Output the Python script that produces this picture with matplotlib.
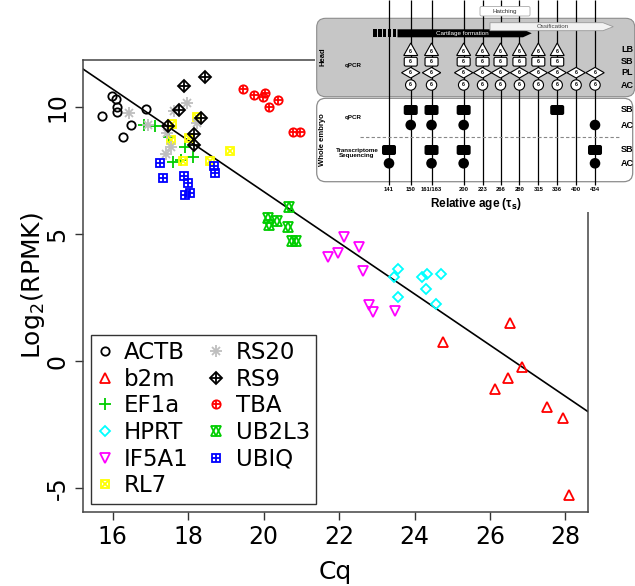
import matplotlib
matplotlib.use("Agg")
import matplotlib.pyplot as plt
from matplotlib.patches import FancyBboxPatch, Polygon, Rectangle, Circle

plt.rcParams['font.family'] = ['DejaVu Sans']
plt.rcParams['axes.unicode_minus'] = False

# ---- data ----
genes = ["ACTB", "b2m", "EF1a", "HPRT", "IF5A1", "RL7",
         "RS20", "RS9", "TBA", "UB2L3", "UBIQ"]

ACTB_cq = [15.97, 16.08, 16.10, 16.10, 15.71, 16.47, 16.27, 16.87]
ACTB_lr = [10.43, 10.30, 10.01, 9.79, 9.65, 9.29, 8.81, 9.92]
b2m_cq = [26.52, 24.76, 26.86, 26.47, 26.13, 27.52, 27.93, 28.09]
b2m_lr = [1.48, 0.76, -0.22, -0.66, -1.11, -1.80, -2.23, -5.28]
EF1a_cq = [16.82, 17.11, 17.49, 17.90, 18.12, 17.60, 17.82]
EF1a_lr = [9.29, 9.25, 8.81, 8.44, 8.02, 7.85, 7.91]
HPRT_cq = [23.57, 23.45, 24.19, 24.33, 24.70, 24.30, 23.55, 24.58]
HPRT_lr = [3.61, 3.32, 3.32, 3.43, 3.43, 2.82, 2.51, 2.24]
IF5A1_cq = [22.14, 22.53, 21.96, 21.71, 22.64, 22.80, 22.90, 23.49]
IF5A1_lr = [4.87, 4.50, 4.26, 4.08, 3.53, 2.20, 1.93, 1.96]
RL7_cq = [17.58, 18.23, 17.55, 18.02, 19.10, 18.57, 17.86]
RL7_lr = [9.33, 9.59, 8.70, 8.77, 8.28, 7.89, 7.89]
RS20_cq = [16.43, 16.93, 17.97, 17.61, 18.23, 17.44, 17.55, 17.40]
RS20_lr = [9.78, 9.29, 10.14, 9.86, 9.38, 8.99, 8.41, 8.15]
RS9_cq = [18.44, 17.88, 17.75, 18.35, 17.46, 18.15, 18.15]
RS9_lr = [11.19, 10.83, 9.88, 9.55, 9.25, 8.94, 8.50]
TBA_cq = [19.45, 19.74, 20.03, 19.97, 20.38, 20.14, 20.77, 20.97]
TBA_lr = [10.70, 10.48, 10.56, 10.41, 10.29, 10.01, 9.00, 9.03]
UB2L3_cq = [20.68, 20.11, 20.13, 20.36, 20.64, 20.74, 20.86]
UB2L3_lr = [6.05, 5.62, 5.35, 5.52, 5.29, 4.74, 4.74]
UBIQ_cq = [17.24, 17.32, 17.88, 17.99, 18.04, 17.91, 18.67, 18.70]
UBIQ_lr = [7.81, 7.19, 7.28, 7.02, 6.63, 6.55, 7.68, 7.41]

fit_intercept = 26.81
fit_slope = -1.007

# sampling scheme (inset)
ages = ["141", "150", "161/163", "200", "223", "266", "280", "315", "336", "400", "434"]
head_LB = ["150", "161/163", "200", "223", "266", "280", "315", "336"]
head_SB = ["150", "161/163", "200", "223", "266", "280", "315", "336"]
head_PL = ["150", "161/163", "200", "223", "266", "280", "315", "336", "400", "434"]
head_AC = ["150", "161/163", "200", "223", "266", "280", "315", "336", "400", "434"]
embryo_qpcr_SB = ["150", "161/163", "200", "336"]
embryo_qpcr_AC = ["150", "161/163", "200", "434"]
embryo_seq_SB = ["141", "161/163", "200", "434"]
embryo_seq_AC = ["141", "161/163", "200", "434"]

series = {
    "ACTB": (ACTB_cq, ACTB_lr), "b2m": (b2m_cq, b2m_lr), "EF1a": (EF1a_cq, EF1a_lr),
    "HPRT": (HPRT_cq, HPRT_lr), "IF5A1": (IF5A1_cq, IF5A1_lr), "RL7": (RL7_cq, RL7_lr),
    "RS20": (RS20_cq, RS20_lr), "RS9": (RS9_cq, RS9_lr), "TBA": (TBA_cq, TBA_lr),
    "UB2L3": (UB2L3_cq, UB2L3_lr), "UBIQ": (UBIQ_cq, UBIQ_lr),
}

# colour + list of (marker, size) overlaid to mimic R pch 1..12
styles = {
    "ACTB": ("black", [("o", 6)]),
    "b2m": ("#ff0000", [("^", 7)]),
    "EF1a": ("#00cd00", [("+", 8.5)]),
    "HPRT": ("#00ffff", [("D", 5.5)]),
    "IF5A1": ("#ff00ff", [("v", 7)]),
    "RL7": ("#ffff00", [("s", 5.5), ("x", 4)]),
    "RS20": ("#bebebe", [("+", 8.5), ("x", 6)]),
    "RS9": ("black", [("D", 6), ("+", 7)]),
    "TBA": ("#ff0000", [("o", 6), ("+", 6)]),
    "UB2L3": ("#00cd00", [("^", 7), ("v", 7)]),
    "UBIQ": ("#0000ff", [("s", 5.5), ("+", 5.5)]),
}

fig = plt.figure(figsize=(6.35, 5.86), dpi=100)
ax = fig.add_axes([82.7 / 635, 1 - 512 / 586, (588 - 82.7) / 635, (512 - 60) / 586])

handles = []
for g in genes:
    x, y = series[g]
    color, marks = styles[g]
    parts = []
    for m, ms in marks:
        ln, = ax.plot(x, y, ls="none", marker=m, ms=ms, mfc="none",
                      mec=color, mew=1.3, zorder=3)
        parts.append(ln)
    handles.append(tuple(parts))

ax.axline((0, fit_intercept), slope=fit_slope, color="black", lw=1.2, zorder=2)

ax.set_xlim(15.2, 28.6)
ax.set_ylim(-5.94, 11.85)
ax.set_xticks([16, 18, 20, 22, 24, 26, 28])
ax.set_yticks([-5, 0, 5, 10])
ax.tick_params(length=6, width=1, labelsize=17, color="#333333")
ax.tick_params(axis="y", labelrotation=90)
for lab in ax.get_yticklabels():
    lab.set_va("center")
for s in ax.spines.values():
    s.set_color("#444444")
    s.set_linewidth(1.1)
ax.set_xlabel("Cq", fontsize=18, labelpad=8)
ax.set_ylabel("Log$_2$(RPMK)", fontsize=18, labelpad=-1)

leg = ax.legend(handles, genes, ncol=2, loc="lower left",
                bbox_to_anchor=(0.017, 0.018), borderaxespad=0, fontsize=16.5,
                fancybox=False, frameon=True, handlelength=0.6,
                handletextpad=0.55, columnspacing=0.9, labelspacing=0.16,
                borderpad=0.28)
leg.get_frame().set_edgecolor("black")
leg.get_frame().set_linewidth(1.0)

# ---- inset: sampling scheme ----
ins = fig.add_axes([315 / 635, 1 - 212 / 586, 320 / 635, 212 / 586])
ins.set_xlim(315, 635)
ins.set_ylim(212, 0)
ins.axis("off")
ins.add_patch(Rectangle((315, 0), 320, 212, fc="white", ec="none", zorder=0))

fnt = "Liberation Sans"
slot = [0, 1.15, 2.25, 3.95, 4.95, 5.9, 6.9, 7.9, 8.9, 9.9, 10.9]
xpos = {a: 389 + 18.9 * s for a, s in zip(ages, slot)}

ins.add_patch(FancyBboxPatch((316.7, 18.3), 318, 78.4,
                             boxstyle="round,pad=0,rounding_size=9",
                             fc="#c6c6c6", ec="#8c8c8c", lw=0.8, zorder=1))
ins.add_patch(FancyBboxPatch((316.7, 98.3), 316, 83.4,
                             boxstyle="round,pad=0,rounding_size=9",
                             fc="white", ec="#8c8c8c", lw=0.9, zorder=1))

ins.vlines([xpos[a] for a in ages], 0, 185, color="black", lw=0.9, zorder=2)

ins.add_patch(FancyBboxPatch((480, 6.5), 50, 9.5, boxstyle="round,pad=0,rounding_size=1.5",
                             fc="white", ec="#aaaaaa", lw=0.6, zorder=3))
ins.text(505, 11.3, "Hatching", fontsize=4.5, family=fnt, color="#333333",
         ha="center", va="center", zorder=4)

for i in range(5):
    ins.add_patch(Rectangle((373.3 + i * 4.8, 29.3), 3.4, 8, fc="black", ec="none", zorder=3))
ins.add_patch(Polygon([(397.5, 29.3), (523, 29.3), (531.7, 33.3), (523, 37.3), (397.5, 37.3)],
                      closed=True, fc="black", ec="none", zorder=3))
ins.text(462, 33.3, "Cartilage formation", fontsize=4.5, family=fnt, color="white",
         ha="center", va="center", zorder=4)
ins.add_patch(Polygon([(490, 22.7), (603, 22.7), (613.3, 26.7), (603, 30.7), (490, 30.7)],
                      closed=True, fc="#f2f2f2", ec="#999999", lw=0.6, zorder=3))
ins.text(553, 26.7, "Ossification", fontsize=4.5, family=fnt, color="#444444",
         ha="center", va="center", zorder=4)


def six(x, y):
    ins.text(x, y, "6", fontsize=3.8, family=fnt, fontweight="bold",
             ha="center", va="center", zorder=6)


for a in head_LB:
    x = xpos[a]
    ins.add_patch(Polygon([(x - 7, 55.5), (x + 7, 55.5), (x, 43)], closed=True,
                          fc="white", ec="black", lw=0.8, zorder=5))
    six(x, 51.5)
for a in head_SB:
    x = xpos[a]
    ins.add_patch(FancyBboxPatch((x - 6.5, 57.3), 13, 8.8,
                                 boxstyle="round,pad=0,rounding_size=1.5",
                                 fc="white", ec="black", lw=0.8, zorder=5))
    six(x, 61.7)
for a in head_PL:
    x = xpos[a]
    ins.add_patch(Polygon([(x - 9.2, 72.7), (x, 67.4), (x + 9.2, 72.7), (x, 78)], closed=True,
                          fc="white", ec="black", lw=0.8, zorder=5))
    six(x, 72.7)
for a in head_AC:
    x = xpos[a]
    ins.add_patch(Circle((x, 85), 5.2, fc="white", ec="black", lw=0.8, zorder=5))
    six(x, 85)

for rows, ysq, yci in [((embryo_qpcr_SB, embryo_qpcr_AC), 110, 125),
                       ((embryo_seq_SB, embryo_seq_AC), 150, 163.3)]:
    for a in rows[0]:
        x = xpos[a]
        ins.add_patch(FancyBboxPatch((x - 7, ysq - 5), 14, 10,
                                     boxstyle="round,pad=0,rounding_size=2",
                                     fc="black", ec="none", zorder=5))
    for a in rows[1]:
        ins.add_patch(Circle((xpos[a], yci), 5.3, fc="black", ec="none", zorder=5))

ins.hlines(136.7, 360, 620, colors="#888888", linestyles=(0, (3, 2)), lw=0.8, zorder=2)

for lab, y in [("LB", 49.3), ("SB", 61.7), ("PL", 72.7), ("AC", 85),
               ("SB", 110), ("AC", 125), ("SB", 150), ("AC", 163.3)]:
    ins.text(627, y, lab, fontsize=6.5, family=fnt, fontweight="bold",
             ha="center", va="center", zorder=6)

ins.text(323, 57, "Head", rotation=90, fontsize=5.5, family=fnt, fontweight="bold",
         ha="center", va="center", zorder=6)
ins.text(353, 65, "qPCR", fontsize=4.5, family=fnt, fontweight="bold",
         ha="center", va="center", zorder=6)
ins.text(323, 140, "Whole embryo", rotation=90, fontsize=5.5, family=fnt,
         fontweight="bold", ha="center", va="center", zorder=6)
ins.text(353, 118, "qPCR", fontsize=4.5, family=fnt, fontweight="bold",
         ha="center", va="center", zorder=6)
ins.text(357, 153, "Transcriptome\nSequencing", fontsize=4.5, family=fnt,
         fontweight="bold", ha="center", va="center", linespacing=1.1, zorder=6)

for a in ages:
    ins.text(xpos[a], 189.5, a, fontsize=4.2, family=fnt, fontweight="bold",
             ha="center", va="center", zorder=6)
ins.text(476, 204, r"Relative age (τ$_\mathbf{s}$)", fontsize=8.5, family=fnt,
         fontweight="bold", ha="center", va="center", zorder=6)

fig.savefig("out.png", dpi=100)
